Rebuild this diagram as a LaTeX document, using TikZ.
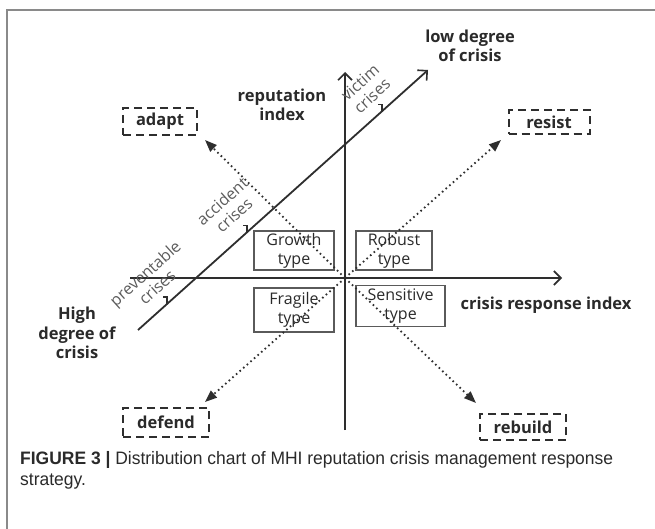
\documentclass[tikz,border=0pt]{standalone}
\usepackage{fontspec}
\setmainfont{Open Sans}
\newfontfamily\capfont[FakeStretch=0.97]{Liberation Sans}
\usetikzlibrary{arrows.meta,calc}
\definecolor{axc}{HTML}{2E2E2E}
\definecolor{framec}{HTML}{8A8A8A}
\definecolor{boxc}{HTML}{5A5A5A}
\definecolor{txtc}{HTML}{2A2A2A}
\definecolor{grayt}{HTML}{5C5C5C}
\tikzset{
  axisline/.style={draw=axc, line width=1.8pt, -{Straight Barb[length=7pt,width=14pt,line width=1.6pt]}},
  dotarrow/.style={draw=axc, line width=1.8pt, dash pattern=on 1.6pt off 3.2pt, -{Triangle[length=12pt,width=9pt]}},
  dashbox/.style={draw=axc, line width=2pt, dash pattern=on 8pt off 5pt, text=txtc, font=\fontsize{16.5}{19}\selectfont\bfseries, inner sep=0pt},
  typebox/.style={draw=boxc, line width=1.2pt, text=txtc, font=\fontsize{16}{19}\selectfont, align=center, inner sep=0pt},
  boldlabel/.style={text=txtc, font=\fontsize{16.5}{19.5}\selectfont\bfseries, align=center, inner sep=0pt},
  diaglabel/.style={text=grayt, font=\fontsize{16}{18}\selectfont, align=center, inner sep=0pt, rotate=41.9},
  tickmark/.style={draw=axc, line width=1.3pt}
}
\begin{document}
\begin{tikzpicture}[x=1pt,y=-1pt]
\useasboundingbox (0,0) rectangle (655,529);
\fill[white] (0,0) rectangle (655,529);
% frame
\draw[framec, line width=1.5pt] (7,529) -- (7,10) -- (655,10);
% axes
\coordinate (O) at (345,278);
\coordinate (vb) at (345,430);
\coordinate (vt) at (345,72);
\coordinate (hl) at (130,278);
\coordinate (hr) at (562,278);
\coordinate (db) at (138,330);
\coordinate (dt) at (428,70);
\draw[axisline] (vb) -- (vt);
\draw[axisline] (hl) -- (hr);
\draw[axisline] (db) -- (dt);
% ticks on diagonal
\coordinate (t1) at ($(db)!0.10!(dt)$);
\coordinate (t2) at ($(db)!0.376!(dt)$);
\coordinate (t3) at ($(db)!0.841!(dt)$);
\draw[tickmark] (t1) -- ++(0,-7) -- ++(-4,0);
\draw[tickmark] (t2) -- ++(0,-7) -- ++(-4,0);
\draw[tickmark] (t3) -- ++(0,-7) -- ++(-4,0);
% diagonal labels
\node[diaglabel] (lvic) at (366,89) {victim\\crises};
\node[diaglabel] (lacc) at (228,208) {accident\\crises};
\node[diaglabel] (lpre) at (151,280) {preventable\\crises};
% axis labels
\node[boldlabel] (low) at (470,46) {low degree\\of crisis};
\node[boldlabel] (rep) at (282,105) {reputation\\index};
\node[boldlabel] (cri) at (546,305) {crisis response index};
\node[boldlabel] (high) at (77,333) {High\\degree of\\crisis};
% type boxes
\node[typebox, minimum width=80pt, minimum height=39pt] (growth) at (294,250.5) {Growth\\type};
\node[typebox, minimum width=76pt, minimum height=39pt] (robust) at (394,250.5) {Robust\\type};
\node[typebox, minimum width=80pt, minimum height=44pt] (fragile) at (294,310) {Fragile\\type};
\node[typebox, minimum width=89pt, minimum height=41pt] (sensitive) at (400.5,306) {Sensitive\\type};
% strategy boxes
\node[dashbox, minimum width=74pt, minimum height=27pt] (adapt) at (160,121.5) {adapt};
\node[dashbox, minimum width=81pt, minimum height=24pt] (resist) at (549,122) {resist};
\node[dashbox, minimum width=86pt, minimum height=29pt] (defend) at (166,422.5) {defend};
\node[dashbox, minimum width=86pt, minimum height=26pt] (rebuild) at (523,427) {rebuild};
% dotted arrows
\coordinate (ta) at (205,140);
\coordinate (tr) at (501,140);
\coordinate (td) at (205,402);
\coordinate (tb) at (476,403);
\draw[dotarrow] (O) -- (ta);
\draw[dotarrow] (O) -- (tr);
\draw[dotarrow] (O) -- (td);
\draw[dotarrow] (O) -- (tb);
% caption
\node[anchor=north west, inner sep=0pt, text=txtc, align=left, font=\capfont\fontsize{18}{21}\selectfont] (cap) at (20,451)
  {{\bfseries FIGURE 3 |} Distribution chart of MHI reputation crisis management response\\strategy.};
\end{tikzpicture}
\end{document}
